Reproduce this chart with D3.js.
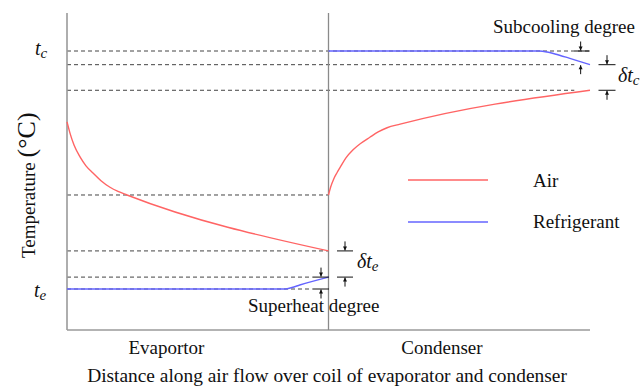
<!DOCTYPE html>
<html>
<head>
<meta charset="utf-8">
<script src="https://cdn.jsdelivr.net/npm/d3@7/dist/d3.min.js"></script>
<style>
  html, body { margin: 0; padding: 0; background: #fff; }
  svg { display: block; }
</style>
</head>
<body>
<svg id="chart" width="640" height="388" font-family="'Liberation Serif', 'Times New Roman', 'DejaVu Serif', serif"></svg>
<script>
// Distance along the air flow (0–50 evaporator, 50–100 condenser) and temperature (°C)
const evapAirX = [0, 0.57, 1.34, 2.49, 3.63, 4.97, 6.50, 8.22, 9.75, 11.47, 50];
const evapAirT = [33.1, 31.2, 29.2, 27.2, 25.7, 24.5, 23.2, 22.1, 21.4, 20.8, 11.4];

const condAirX = [50, 50.4, 51.0, 51.6, 52.2, 53.3, 54.7, 56.2, 57.9, 59.5, 61.2, 63.7, 100];
const condAirT = [20.8, 22.1, 23.5, 24.5, 25.4, 27.0, 28.4, 29.5, 30.5, 31.4, 32.1, 32.7, 38.4];

const evapRefX = [0, 41.7, 43.0, 44.5, 50];
const evapRefT = [5.0, 5.0, 5.25, 5.67, 7.0];

const condRefX = [50, 90.3, 91.8, 93.3, 96, 100];
const condRefT = [45.0, 45.0, 44.83, 44.5, 43.8, 42.7];

// Reference levels (dashed guides)
const te = 5.0, tc = 45.0;
const condRefOut = 42.7, condAirOut = 38.4, condAirIn = 20.8;
const evapAirOut = 11.4, evapRefOut = 7.0;

const sectionLabels = ["Evaportor", "Condenser"];
const sectionLabelX = [19, 71.7];
const legendNames = ["Air", "Refrigerant"];

const AIR = "#ff6464", REF = "#6464ff";
const INK = "#111";

const svg = d3.select("#chart");
const x = d3.scaleLinear().domain([0, 100]).range([67, 590]);
const y = d3.scaleLinear().domain([5, 45]).range([289, 51]);
const yTop = 51.39, yBottom = -1.89;

const toPts = (xs, ts) => xs.map((v, i) => [v, ts[i]]);
const line = d3.line().x(d => x(d[0])).y(d => y(d[1])).curve(d3.curveMonotoneX);

// dashed guide lines
const guides = [
  [tc, 0, 100], [condRefOut, 0, 97], [condAirOut, 0, 97],
  [condAirIn, 0, 50], [evapAirOut, 0, 50], [evapRefOut, 0, 47], [te, 0, 47]
];
svg.append("g").selectAll("line").data(guides).join("line")
  .attr("x1", d => x(d[1])).attr("x2", d => x(d[2]))
  .attr("y1", d => y(d[0])).attr("y2", d => y(d[0]))
  .attr("stroke", "#444").attr("stroke-width", 1)
  .attr("stroke-dasharray", "4,3");

// frame: left axis, bottom axis and the evaporator/condenser divider
const axisG = svg.append("g").attr("stroke", "#9a9a9a").attr("stroke-width", 1.6);
axisG.append("line").attr("x1", x(0)).attr("x2", x(0)).attr("y1", y(yTop)).attr("y2", y(yBottom));
axisG.append("line").attr("x1", x(0)).attr("x2", x(100)).attr("y1", y(yBottom)).attr("y2", y(yBottom));
axisG.append("line").attr("x1", x(50)).attr("x2", x(50)).attr("y1", y(yTop)).attr("y2", y(yBottom))
  .attr("stroke", "#8a8a8a").attr("stroke-width", 1.3);

// curves
const curves = [
  [toPts(evapAirX, evapAirT), AIR], [toPts(condAirX, condAirT), AIR],
  [toPts(evapRefX, evapRefT), REF], [toPts(condRefX, condRefT), REF]
];
svg.append("g").selectAll("path").data(curves).join("path")
  .attr("d", d => line(d[0])).attr("fill", "none")
  .attr("stroke", d => d[1]).attr("stroke-width", 1.4);

// dimension markers: short bars and small arrows
const mk = svg.append("g").attr("stroke", INK).attr("stroke-width", 1);
function bar(px, T, half) {
  mk.append("line").attr("x1", px - half).attr("x2", px + half)
    .attr("y1", y(T)).attr("y2", y(T));
}
function arrow(px, T, dir) {
  // dir = 1: arrow from above pointing down; -1: from below pointing up
  const tip = y(T) - dir * 0.5;
  const tail = tip - dir * 9;
  mk.append("line").attr("x1", px).attr("x2", px).attr("y1", tail).attr("y2", tip);
  mk.append("path")
    .attr("d", `M${px - 2},${tip - dir * 4}L${px + 2},${tip - dir * 4}L${px},${tip}Z`)
    .attr("fill", INK).attr("stroke", "none");
}
// subcooling
bar(x(98.5), tc, 7.5);
arrow(x(98.5) - 1.5, tc, 1);
arrow(x(98.5) - 1.5, condRefOut, -1);
// δtc
bar(607, condRefOut, 8.5); arrow(607, condRefOut, 1);
bar(607, condAirOut, 8.5); arrow(607, condAirOut, -1);
// δte
bar(345, evapAirOut, 8); arrow(345, evapAirOut, 1);
bar(345, evapRefOut, 8); arrow(345, evapRefOut, -1);
// superheat
bar(321, evapRefOut, 8); bar(321, te, 8);
arrow(321, evapRefOut, 1); arrow(321, te, -1);

// text
const FS = 19;
const txt = (xp, yp, s, size) => svg.append("text").attr("x", xp).attr("y", yp)
  .attr("font-size", size || FS).attr("fill", INK).text(s);

txt(493, 33, "Subcooling degree");
txt(248, 312, "Superheat degree");

function sym(xp, yp, pre, sub) {
  const t = svg.append("text").attr("x", xp).attr("y", yp).attr("fill", INK)
    .attr("font-size", 20).attr("font-style", "italic");
  t.append("tspan").text(pre);
  t.append("tspan").attr("dy", 3).attr("font-size", 15).text(sub);
}
sym(35, 55, "t", "c");
sym(34, 297, "t", "e");
sym(618, 82, "δt", "c");
sym(357, 268, "δt", "e");

sectionLabels.forEach((s, i) =>
  txt(x(sectionLabelX[i]), 354, s).attr("text-anchor", "middle"));
txt(327, 382, "Distance along air flow over coil of evaporator and condenser", 19.4)
  .attr("text-anchor", "middle");

const yl = svg.append("text").attr("transform", "translate(35,258) rotate(-90)")
  .attr("font-size", FS).attr("fill", INK);
yl.append("tspan").text("Temperature ");
yl.append("tspan").attr("font-size", 26).text("(°C)");

// legend
const legend = svg.append("g");
[[AIR, 180, 187], [REF, 222, 228]].forEach((d, i) => {
  legend.append("line").attr("x1", 408).attr("x2", 488).attr("y1", d[1]).attr("y2", d[1])
    .attr("stroke", d[0]).attr("stroke-width", 1.4);
  txt(533, d[2], legendNames[i]);
});
</script>
</body>
</html>
